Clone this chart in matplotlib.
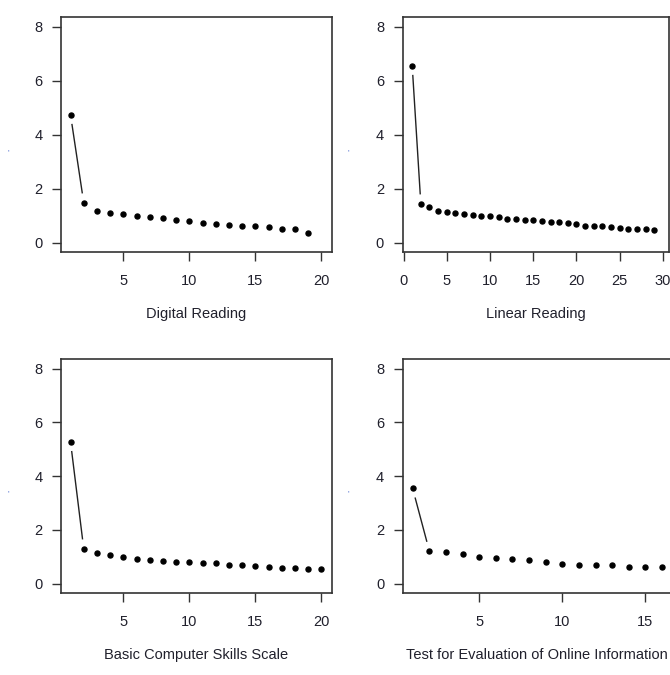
# Scree plots de cuatro escalas (estilo R base)

import matplotlib.pyplot as plt
from matplotlib.ticker import MultipleLocator

plt.rcParams['font.family'] = ['Liberation Sans', 'DejaVu Sans']

# Datos: autovalores
digital_reading = [4.74, 1.48, 1.18, 1.10, 1.04, 0.99, 0.96, 0.91, 0.83, 0.79,
                   0.74, 0.69, 0.66, 0.62, 0.62, 0.57, 0.50, 0.50, 0.37]
linear_reading = [6.56, 1.44, 1.30, 1.18, 1.14, 1.10, 1.05, 1.02, 0.97, 0.97,
                  0.93, 0.88, 0.88, 0.83, 0.83, 0.79, 0.76, 0.76, 0.72, 0.67,
                  0.63, 0.63, 0.63, 0.58, 0.55, 0.51, 0.51, 0.51, 0.46]
basic_skills = [5.28, 1.30, 1.14, 1.05, 1.00, 0.93, 0.88, 0.84, 0.80, 0.80,
                0.75, 0.75, 0.70, 0.70, 0.67, 0.62, 0.58, 0.58, 0.53, 0.53]
teoi = [3.54, 1.22, 1.17, 1.09, 1.00, 0.95, 0.91, 0.87, 0.79, 0.74,
        0.70, 0.70, 0.70, 0.62, 0.62, 0.62]

titulos = ["Digital Reading", "Linear Reading",
           "Basic Computer Skills Scale", "Test for Evaluation of Online Information"]
series = [digital_reading, linear_reading, basic_skills, teoi]

# Cajas de los paneles en pixeles: (izq, der, arriba, abajo) y limites de x
W, H = 670, 675
cajas = [(61, 332, 17, 252), (402.5, 669, 17, 252),
         (61, 332, 359, 593), (402.7, 672, 359, 593)]
xlims = [(0.28, 20.8), (-0.12, 30.7), (0.28, 20.8), (0.4, 16.6)]

fig = plt.figure(figsize=(W / 100, H / 100), dpi=100)
texto = '#20202c'

for valores, titulo, caja, xl in zip(series, titulos, cajas, xlims):
    izq, der, arr, aba = caja
    ax = fig.add_axes([izq / W, 1 - aba / H, (der - izq) / W, (aba - arr) / H])
    x = list(range(1, len(valores) + 1))
    ax.set_xlim(xl)
    ax.set_ylim(-0.35, 8.36)

    # puntos
    ax.plot(x, valores, 'o', color='black', markersize=3.6, zorder=3)

    # lineas con hueco alrededor de cada punto (type = "b")
    gap = 10
    for i in range(len(x) - 1):
        p1 = ax.transData.transform((x[i], valores[i]))
        p2 = ax.transData.transform((x[i + 1], valores[i + 1]))
        largo = ((p2[0] - p1[0]) ** 2 + (p2[1] - p1[1]) ** 2) ** 0.5
        if largo > 2 * gap:
            t = gap / largo
            xs = [x[i] + t * (x[i + 1] - x[i]), x[i + 1] - t * (x[i + 1] - x[i])]
            ys = [valores[i] + t * (valores[i + 1] - valores[i]),
                  valores[i + 1] - t * (valores[i + 1] - valores[i])]
            ax.plot(xs, ys, color='#222222', linewidth=1.0)

    ax.xaxis.set_major_locator(MultipleLocator(5))
    ax.yaxis.set_major_locator(MultipleLocator(2))
    ax.tick_params(direction='out', length=6.3, width=1.0, color='#333333',
                   labelsize=10.5, labelcolor=texto)
    ax.tick_params(axis='x', pad=9.4)
    ax.tick_params(axis='y', pad=7)
    for s in ax.spines.values():
        s.set_linewidth(1.2)
        s.set_color('#333333')
    ax.set_xlabel(titulo, fontsize=10.5, color=texto, labelpad=14)

# marcas azules sueltas (restos de etiquetas del eje y)
for px, py in [(8, 153), (348, 153), (8, 494), (348, 494)]:
    fig.text(px / W, 1 - py / H, "'", color='#3a5cc8', fontsize=6,
             ha='center', va='center')

plt.savefig("out.png", dpi=100)
